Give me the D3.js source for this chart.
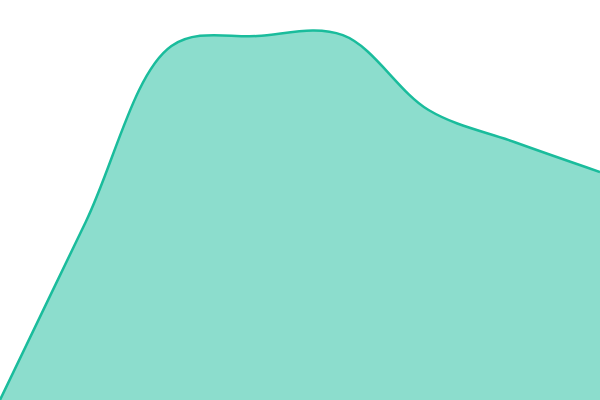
<!DOCTYPE html>
<html>
<head>
<meta charset="utf-8">
<script src="https://cdn.jsdelivr.net/npm/d3@7"></script>
<style>
  body { margin: 0; background: #fff; }
  svg { display: block; }
</style>
</head>
<body>
<script>
// values, one per evenly spaced step
var steps = [0, 1, 2, 3, 4, 5, 6, 7];
var values = [0, 44.5, 88.5, 91, 91.2, 72.5, 64.5, 57];

var width = 600,
	height = 400;

var x = d3.scaleLinear()
	.domain([0, steps.length - 1])
	.range([0, width]);

var y = d3.scaleLinear()
	.domain([0, 100])
	.range([height, 0]);

var svg = d3.select("body").append("svg")
	.attr("width", width)
	.attr("height", height);

var area = d3.area()
	.x(function(d, i) { return x(steps[i]); })
	.y0(height)
	.y1(function(d) { return y(d); })
	.curve(d3.curveCatmullRom);

var line = d3.line()
	.x(function(d, i) { return x(steps[i]); })
	.y(function(d) { return y(d); })
	.curve(d3.curveCatmullRom);

svg.append("path")
	.datum(values)
	.attr("d", area)
	.style("fill", "#1abc9c")
	.style("fill-opacity", 0.5);

svg.append("path")
	.datum(values)
	.attr("d", line)
	.style("fill", "none")
	.style("stroke", "#1abc9c")
	.style("stroke-width", 2.5);
</script>
</body>
</html>
